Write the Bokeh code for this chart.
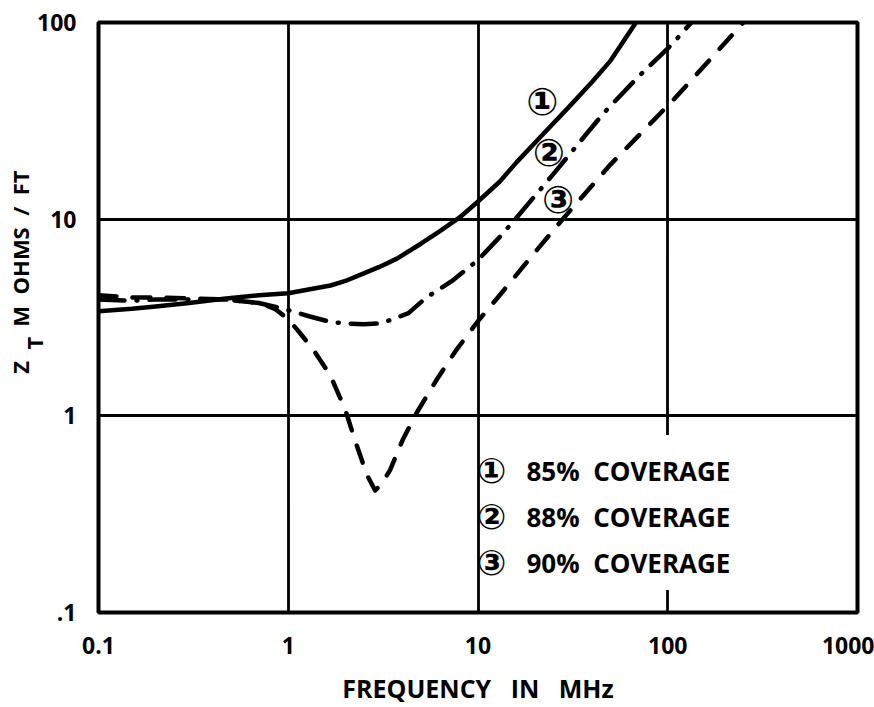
from bokeh.plotting import figure
from bokeh.models import Range1d, FixedTicker, Label, BoxAnnotation, Title
from bokeh.embed import file_html
from bokeh.resources import INLINE

# ---- data ----
freq_85 = [0.1, 0.15, 0.2, 0.3, 0.47, 0.7, 1.0, 1.3, 1.67, 2.0, 2.5, 3.0, 3.74,
           5.0, 6.3, 8.0, 10.0, 13.0, 16.0, 21.5, 30.0, 40.0, 50.0, 68.0]
z_85 = [3.4, 3.5, 3.6, 3.75, 3.95, 4.1, 4.2, 4.4, 4.6, 4.85, 5.3, 5.7, 6.3,
        7.5, 8.7, 10.2, 12.3, 15.5, 19.5, 26.4, 37.0, 50.0, 64.0, 100.0]

freq_88 = [0.1, 0.15, 0.2, 0.3, 0.47, 0.7, 1.0, 1.3, 1.67, 2.0, 2.5, 3.0, 3.5,
           4.3, 5.3, 7.3, 10.0, 13.0, 16.0, 25.0, 45.8, 70.0, 106.0, 133.0]
z_88 = [3.9, 3.85, 3.9, 3.9, 3.9, 3.75, 3.45, 3.2, 3.0, 2.95, 2.92, 2.95, 3.08,
        3.33, 3.97, 4.85, 6.2, 8.1, 10.2, 17.0, 34.5, 53.0, 78.0, 100.0]

freq_90 = [0.1, 0.15, 0.2, 0.3, 0.47, 0.7, 0.85, 1.0, 1.13, 1.36, 1.67, 2.0, 2.27,
           2.6, 2.87, 3.1, 3.44, 4.01, 4.76, 6.04, 7.68, 10.1, 12.4, 20.0, 27.7,
           50.0, 106.0, 170.0, 250.0]
z_90 = [4.1, 4.0, 4.0, 3.95, 3.9, 3.75, 3.5, 3.1, 2.7, 2.16, 1.6, 1.07, 0.73,
        0.5, 0.417, 0.45, 0.53, 0.755, 1.04, 1.52, 2.16, 3.07, 3.88, 6.8, 9.9,
        19.0, 40.0, 66.0, 100.0]

x_ticks = [0.1, 1, 10, 100, 1000]
x_tick_labels = ["0.1", "1", "10", "100", "1000"]
y_ticks = [0.1, 1, 10, 100]
y_tick_labels = [".1", "1", "10", "100"]

series_marks = ["\u2460", "\u2461", "\u2462"]
series_names = ["85%\u00a0 COVERAGE", "88%\u00a0 COVERAGE", "90%\u00a0 COVERAGE"]
x_title = "FREQUENCY\u00a0\u00a0 IN\u00a0\u00a0 MHz"
y_title_main = ("Z\u00a0\u00a0\u00a0\u00a0\u00a0\u00a0M\u00a0\u00a0OHMS"
                "\u00a0\u00a0/\u00a0\u00a0FT")
y_title_sub = "T"

FONT = "Open Sans"
MARK_FONT = "DejaVu Sans"

p = figure(width=874, height=707, x_axis_type="log", y_axis_type="log",
           x_range=Range1d(0.1, 1000), y_range=Range1d(0.1, 100),
           output_backend="svg", toolbar_location=None,
           min_border_left=98, min_border_right=17,
           min_border_top=22, min_border_bottom=95)
p.background_fill_color = "white"
p.border_fill_color = "white"
p.outline_line_color = "black"
p.outline_line_width = 4

p.xaxis.ticker = FixedTicker(ticks=x_ticks)
p.yaxis.ticker = FixedTicker(ticks=y_ticks)
p.xaxis.major_label_overrides = dict(zip(x_ticks, x_tick_labels))
p.yaxis.major_label_overrides = dict(zip(y_ticks, y_tick_labels))
for ax in (p.xaxis, p.yaxis):
    ax.axis_line_color = None
    ax.major_tick_line_color = None
    ax.minor_tick_line_color = None
    ax.major_tick_out = 0
    ax.major_tick_in = 0
    ax.minor_tick_out = 0
    ax.major_label_text_font = FONT
    ax.major_label_text_font_style = "bold"
    ax.major_label_text_font_size = "23px"
    ax.major_label_text_color = "black"
p.xaxis.major_label_standoff = 24
p.yaxis.major_label_standoff = 22

p.xaxis.axis_label = x_title
p.xaxis.axis_label_standoff = 14
p.xaxis.axis_label_text_font = FONT
p.xaxis.axis_label_text_font_style = "bold"
p.xaxis.axis_label_text_font_size = "25px"
p.xaxis.axis_label_text_color = "black"

for g in (p.xgrid, p.ygrid):
    g.grid_line_color = "black"
    g.grid_line_width = 2.8
    g.grid_line_alpha = 1.0
p.xgrid.ticker = FixedTicker(ticks=x_ticks)
p.ygrid.ticker = FixedTicker(ticks=y_ticks)

# y title: subscript first (inner column), then main text (outer column)
p.add_layout(Title(text=y_title_sub, align="left", offset=263, standoff=-28,
                   text_font=FONT, text_font_style="bold",
                   text_font_size="22px", text_color="black"), "left")
p.add_layout(Title(text=y_title_main, align="right", offset=148, standoff=-8,
                   text_font=FONT, text_font_style="bold",
                   text_font_size="22px", text_color="black"), "left")

# legend background (covers grid line)
p.add_layout(BoxAnnotation(left=11, right=900, bottom=0.13, top=0.8,
                           fill_color="white", fill_alpha=1.0, line_color=None))

p.line(freq_85, z_85, line_color="black", line_width=4.5, line_join="round")
p.line(freq_88, z_88, line_color="black", line_width=4.5,
       line_dash="26 12 1 12", line_cap="round", line_join="round")
p.line(freq_90, z_90, line_color="black", line_width=4.5,
       line_dash="18 16", line_cap="round", line_join="round")

# curve labels
for (lx, ly), mark in zip([(21.8, 39.4), (23.6, 21.7), (26.4, 12.5)], series_marks):
    p.add_layout(Label(x=lx, y=ly, text=mark, text_align="center",
                       text_baseline="middle", text_font=MARK_FONT,
                       text_font_style="bold",
                       text_font_size="38px", text_color="black"))

# legend rows
for i, (mark, name) in enumerate(zip(series_marks, series_names)):
    sy = 612 - (470 + 46 * i)
    p.add_layout(Label(x=491 - 98, y=sy, x_units="screen", y_units="screen",
                       text=mark, text_align="center", text_baseline="middle",
                       text_font=MARK_FONT, text_font_style="bold",
                       text_font_size="35px", text_color="black"))
    p.add_layout(Label(x=526 - 98, y=sy, x_units="screen", y_units="screen",
                       text=name, text_align="left", text_baseline="middle",
                       text_font=FONT, text_font_style="bold",
                       text_font_size="26px", text_color="black"))

open("out.html", "w").write(file_html(p, INLINE))
